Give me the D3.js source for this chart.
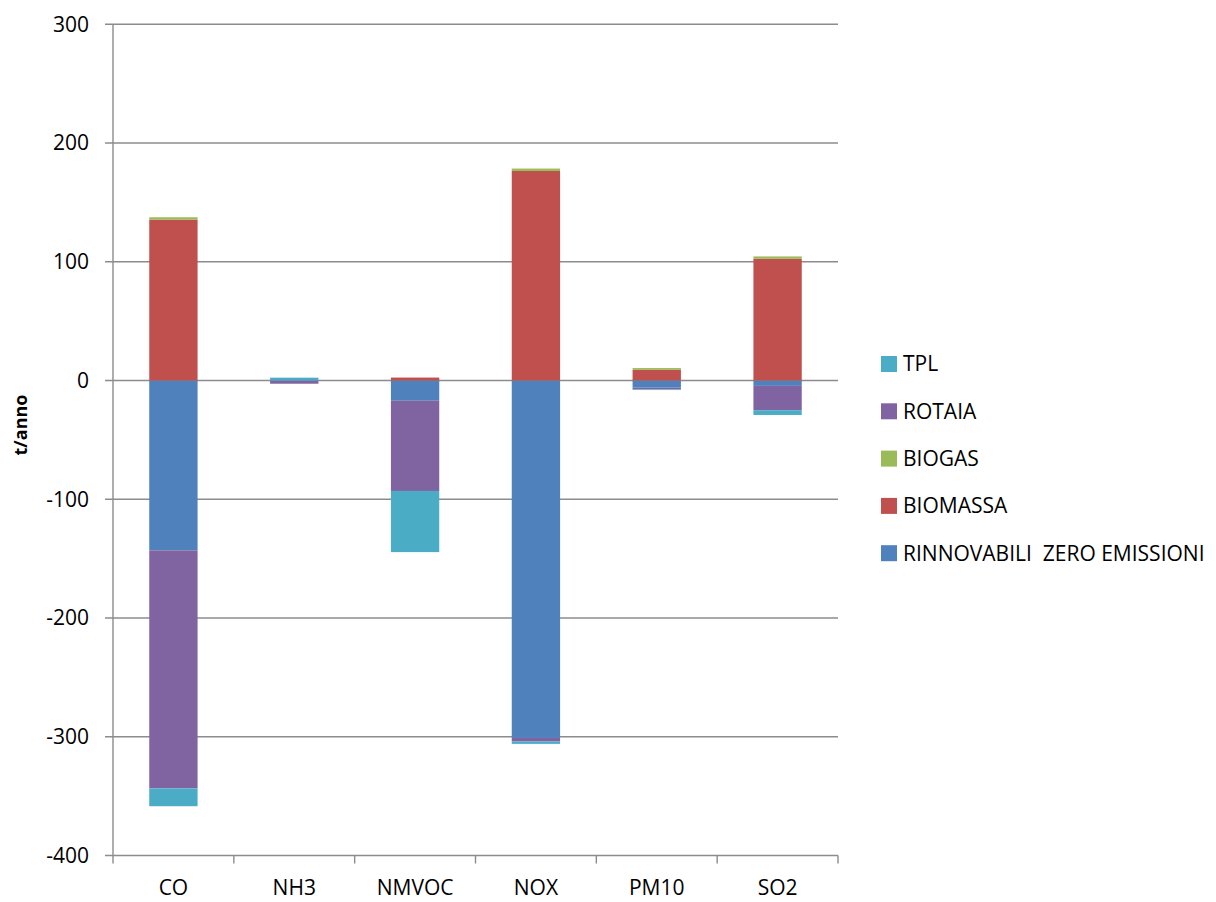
<!DOCTYPE html>
<html>
<head>
<meta charset="utf-8">
<script src="https://cdn.jsdelivr.net/npm/d3@7"></script>
<style>
  html, body { margin: 0; padding: 0; background: #fff; }
  svg text { font-family: "Open Sans", "Liberation Sans", sans-serif; fill: #000; }
</style>
</head>
<body>
<svg id="chart" width="1216" height="902"></svg>
<script>
const categories = ["CO", "NH3", "NMVOC", "NOX", "PM10", "SO2"];
const seriesNames = ["RINNOVABILI  ZERO EMISSIONI", "BIOMASSA", "BIOGAS", "ROTAIA", "TPL"];
const rinnovabili = [-143, 0, -17, -301, -6, -4.5];
const biomassa    = [135.5, 0, 2.5, 176.5, 9, 102.5];
const biogas      = [2, 0, 0, 2, 1.5, 2];
const rotaia      = [-200.5, -2.7, -76, -3, -1.5, -20.5];
const tpl         = [-15, 2.4, -51.5, -2, -0.5, -4];
const yTicks = [300, 200, 100, 0, -100, -200, -300, -400];
const colors = ["#4F81BD", "#C0504D", "#9BBB59", "#8064A2", "#4BACC6"];
const legendOrder = [4, 3, 2, 1, 0];

const seriesValues = [rinnovabili, biomassa, biogas, rotaia, tpl];
const rows = categories.map((c, i) => {
  const r = { cat: c };
  seriesNames.forEach((s, j) => r[s] = seriesValues[j][i]);
  return r;
});

const svg = d3.select("#chart");
const pLeft = 113, pRight = 838, pTop = 24.3, pBottom = 855.5;

const y = d3.scaleLinear().domain([-400, 300]).range([pBottom, pTop]);
const x = d3.scaleBand().domain(categories).range([pLeft, pRight]).paddingInner(0.6).paddingOuter(0.3);

// gridlines
svg.append("g").selectAll("line").data(yTicks).join("line")
  .attr("x1", pLeft - 8).attr("x2", pRight)
  .attr("y1", d => y(d)).attr("y2", d => y(d))
  .attr("stroke", "#8c8c8c").attr("stroke-width", 1.4);

// y axis line
svg.append("line").attr("x1", pLeft).attr("x2", pLeft).attr("y1", pTop).attr("y2", pBottom)
  .attr("stroke", "#8c8c8c").attr("stroke-width", 1.4);

// y tick labels
svg.append("g").selectAll("text").data(yTicks).join("text")
  .attr("x", 89).attr("y", d => y(d)).attr("dy", "0.35em")
  .attr("text-anchor", "end").attr("font-size", 21)
  .text(d => d);

// x axis category ticks
const step = x.step();
const boundaries = d3.range(categories.length + 1).map(i => pLeft + i * step);
svg.append("g").selectAll("line").data(boundaries).join("line")
  .attr("x1", d => d).attr("x2", d => d).attr("y1", pBottom).attr("y2", pBottom + 8)
  .attr("stroke", "#8c8c8c").attr("stroke-width", 1.4);

// x labels
svg.append("g").selectAll("text").data(categories).join("text")
  .attr("x", d => x(d) + x.bandwidth() / 2).attr("y", 895)
  .attr("text-anchor", "middle").attr("font-size", 21)
  .text(d => d);

// bars
const stack = d3.stack().keys(seriesNames).order(d3.stackOrderNone).offset(d3.stackOffsetDiverging);
const stacked = stack(rows);
svg.append("g").selectAll("g").data(stacked).join("g")
  .attr("fill", (d, i) => colors[i])
  .selectAll("rect").data(d => d).join("rect")
  .attr("x", d => x(d.data.cat))
  .attr("width", x.bandwidth())
  .attr("y", d => y(Math.max(d[0], d[1])))
  .attr("height", d => Math.abs(y(d[0]) - y(d[1])));

// y axis title
svg.append("text")
  .attr("transform", "translate(27,425) rotate(-90)")
  .attr("text-anchor", "middle").attr("font-size", 18).attr("font-weight", "bold")
  .text("t/anno");

// legend
const lg = svg.append("g").selectAll("g").data(legendOrder).join("g")
  .attr("transform", (d, i) => `translate(881,${364 + i * 47.3})`);
lg.append("rect").attr("x", 0).attr("y", -8).attr("width", 16).attr("height", 16)
  .attr("fill", d => colors[d]);
lg.append("text").attr("x", 22).attr("y", 0).attr("dy", "0.35em").attr("font-size", 21)
  .attr("xml:space", "preserve").style("white-space", "pre")
  .text(d => seriesNames[d]);
</script>
</body>
</html>
